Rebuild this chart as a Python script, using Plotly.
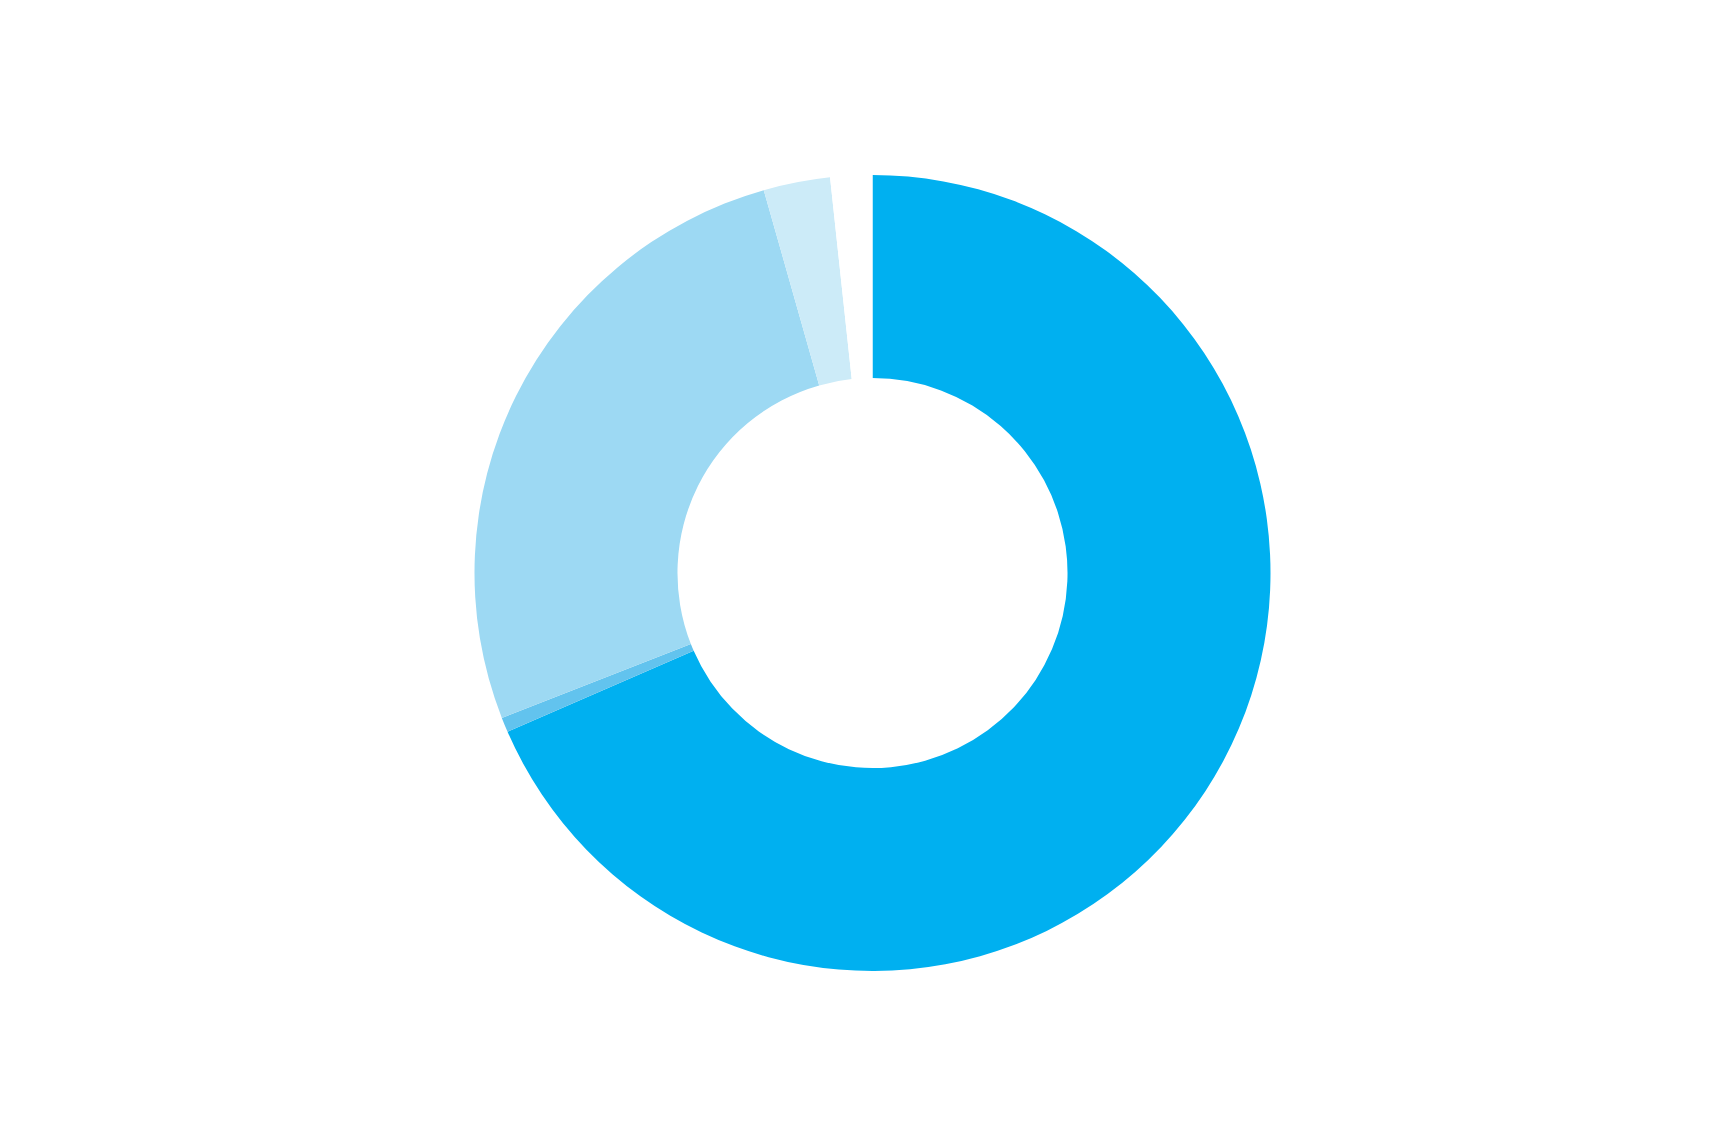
import plotly.graph_objects as go

categories = ["Main", "Minor", "Secondary", "Small", "Other"]
values = [68.4, 0.6, 26.5, 2.7, 1.7]
colors = ["#00B0F0", "#62C3EE", "#9DD9F3", "#CCEBF8", "#FFFFFF"]

fig = go.Figure(
    go.Pie(
        labels=categories,
        values=values,
        hole=0.49,
        sort=False,
        direction="clockwise",
        rotation=0,
        marker=dict(colors=colors, line=dict(width=0)),
        textinfo="none",
        showlegend=False,
    )
)

fig.update_layout(
    width=1721,
    height=1137,
    margin=dict(l=92, r=84, t=167, b=174),
    paper_bgcolor="white",
    plot_bgcolor="white",
)

fig.write_html("out.html")
